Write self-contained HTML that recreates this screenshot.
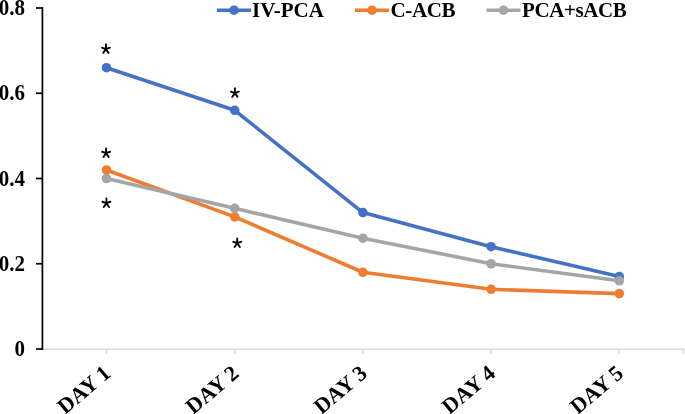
<!DOCTYPE html>
<html><head><meta charset="utf-8"><style>
html,body{margin:0;padding:0;background:#fff;}
svg{display:block;will-change:transform;}
.t{font-family:"Liberation Serif",serif;font-weight:bold;font-size:21px;fill:#000;}
.d{font-size:22.0px;}
</style></head><body>
<svg width="685" height="414" viewBox="0 0 685 414">
<line x1="43" y1="349.2" x2="684" y2="349.2" stroke="#D9D9D9" stroke-width="1.5"/>
<line x1="106.5" y1="349.2" x2="106.5" y2="354" stroke="#D9D9D9" stroke-width="1.5"/>
<line x1="234.7" y1="349.2" x2="234.7" y2="354" stroke="#D9D9D9" stroke-width="1.5"/>
<line x1="362.9" y1="349.2" x2="362.9" y2="354" stroke="#D9D9D9" stroke-width="1.5"/>
<line x1="491.09999999999997" y1="349.2" x2="491.09999999999997" y2="354" stroke="#D9D9D9" stroke-width="1.5"/>
<line x1="619.3" y1="349.2" x2="619.3" y2="354" stroke="#D9D9D9" stroke-width="1.5"/>
<line x1="683.5" y1="349.2" x2="683.5" y2="354" stroke="#D9D9D9" stroke-width="1.5"/>
<line x1="42.4" y1="7.2" x2="42.4" y2="350" stroke="#000" stroke-width="1.7"/>
<line x1="36" y1="349.00" x2="43" y2="349.00" stroke="#000" stroke-width="1.7"/>
<text transform="translate(25,356.20) scale(1,1.08)" text-anchor="end" class="t">0</text>
<line x1="36" y1="263.75" x2="43" y2="263.75" stroke="#000" stroke-width="1.7"/>
<text transform="translate(25,270.95) scale(1,1.08)" text-anchor="end" class="t">0.2</text>
<line x1="36" y1="178.50" x2="43" y2="178.50" stroke="#000" stroke-width="1.7"/>
<text transform="translate(25,185.70) scale(1,1.08)" text-anchor="end" class="t">0.4</text>
<line x1="36" y1="93.25" x2="43" y2="93.25" stroke="#000" stroke-width="1.7"/>
<text transform="translate(25,100.45) scale(1,1.08)" text-anchor="end" class="t">0.6</text>
<line x1="36" y1="8.00" x2="43" y2="8.00" stroke="#000" stroke-width="1.7"/>
<text transform="translate(25,15.20) scale(1,1.08)" text-anchor="end" class="t">0.8</text>
<polyline points="106.5,67.68 234.7,110.30 362.9,212.60 491.09999999999997,246.70 619.3,276.54" fill="none" stroke="#4472C4" stroke-width="3.6" stroke-linejoin="round" stroke-linecap="round"/>
<circle cx="106.5" cy="67.68" r="4.8" fill="#4472C4"/>
<circle cx="234.7" cy="110.30" r="4.8" fill="#4472C4"/>
<circle cx="362.9" cy="212.60" r="4.8" fill="#4472C4"/>
<circle cx="491.09999999999997" cy="246.70" r="4.8" fill="#4472C4"/>
<circle cx="619.3" cy="276.54" r="4.8" fill="#4472C4"/>
<polyline points="106.5,169.98 234.7,216.86 362.9,272.27 491.09999999999997,289.32 619.3,293.59" fill="none" stroke="#ED7D31" stroke-width="3.6" stroke-linejoin="round" stroke-linecap="round"/>
<circle cx="106.5" cy="169.98" r="4.8" fill="#ED7D31"/>
<circle cx="234.7" cy="216.86" r="4.8" fill="#ED7D31"/>
<circle cx="362.9" cy="272.27" r="4.8" fill="#ED7D31"/>
<circle cx="491.09999999999997" cy="289.32" r="4.8" fill="#ED7D31"/>
<circle cx="619.3" cy="293.59" r="4.8" fill="#ED7D31"/>
<polyline points="106.5,178.50 234.7,208.34 362.9,238.18 491.09999999999997,263.75 619.3,280.80" fill="none" stroke="#A5A5A5" stroke-width="3.6" stroke-linejoin="round" stroke-linecap="round"/>
<circle cx="106.5" cy="178.50" r="4.8" fill="#A5A5A5"/>
<circle cx="234.7" cy="208.34" r="4.8" fill="#A5A5A5"/>
<circle cx="362.9" cy="238.18" r="4.8" fill="#A5A5A5"/>
<circle cx="491.09999999999997" cy="263.75" r="4.8" fill="#A5A5A5"/>
<circle cx="619.3" cy="280.80" r="4.8" fill="#A5A5A5"/>
<text transform="translate(112.0,375.5) rotate(-40)" text-anchor="end" class="t d">DAY 1</text>
<text transform="translate(240.2,375.5) rotate(-40)" text-anchor="end" class="t d">DAY 2</text>
<text transform="translate(368.4,375.5) rotate(-40)" text-anchor="end" class="t d">DAY 3</text>
<text transform="translate(496.59999999999997,375.5) rotate(-40)" text-anchor="end" class="t d">DAY 4</text>
<text transform="translate(624.8,375.5) rotate(-40)" text-anchor="end" class="t d">DAY 5</text>
<line x1="217" y1="10.2" x2="251" y2="10.2" stroke="#4472C4" stroke-width="3.6"/>
<circle cx="234" cy="10.2" r="4.8" fill="#4472C4"/>
<text x="252" y="17" class="t" letter-spacing="0">IV-PCA</text>
<line x1="355" y1="10.2" x2="389" y2="10.2" stroke="#ED7D31" stroke-width="3.6"/>
<circle cx="372" cy="10.2" r="4.8" fill="#ED7D31"/>
<text x="390.5" y="17" class="t" letter-spacing="-0.35">C-ACB</text>
<line x1="486.5" y1="10.2" x2="520.5" y2="10.2" stroke="#A5A5A5" stroke-width="3.6"/>
<circle cx="503.5" cy="10.2" r="4.8" fill="#A5A5A5"/>
<text x="522" y="17" class="t" letter-spacing="-0.4">PCA+sACB</text>
<path d="M105.90,49.10L105.90,44.30M105.90,49.10L109.85,47.66M105.90,49.10L101.95,47.66M105.90,49.10L108.54,52.87M105.90,49.10L103.26,52.87" stroke="#000" stroke-width="1.9" stroke-linecap="round" fill="none"/>
<path d="M234.90,93.10L234.90,88.30M234.90,93.10L238.85,91.66M234.90,93.10L230.95,91.66M234.90,93.10L237.54,96.87M234.90,93.10L232.26,96.87" stroke="#000" stroke-width="1.9" stroke-linecap="round" fill="none"/>
<path d="M106.10,153.20L106.10,148.40M106.10,153.20L110.05,151.76M106.10,153.20L102.15,151.76M106.10,153.20L108.74,156.97M106.10,153.20L103.46,156.97" stroke="#000" stroke-width="1.9" stroke-linecap="round" fill="none"/>
<path d="M106.40,203.20L106.40,198.40M106.40,203.20L110.35,201.76M106.40,203.20L102.45,201.76M106.40,203.20L109.04,206.97M106.40,203.20L103.76,206.97" stroke="#000" stroke-width="1.9" stroke-linecap="round" fill="none"/>
<path d="M237.20,243.20L237.20,238.40M237.20,243.20L241.15,241.76M237.20,243.20L233.25,241.76M237.20,243.20L239.84,246.97M237.20,243.20L234.56,246.97" stroke="#000" stroke-width="1.9" stroke-linecap="round" fill="none"/>
</svg>
</body></html>
